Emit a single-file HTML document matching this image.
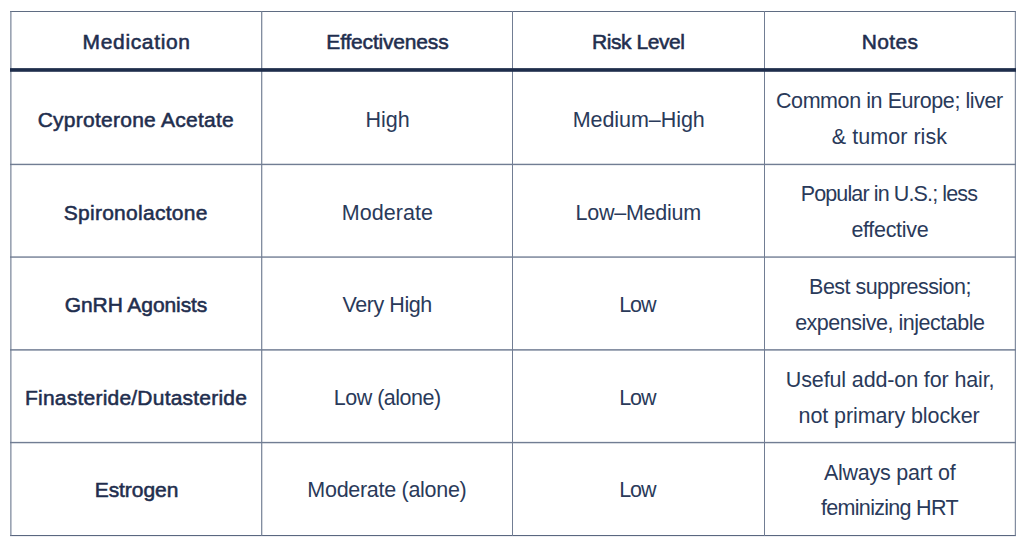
<!DOCTYPE html><html><head><meta charset="utf-8"><style>
html,body{margin:0;padding:0;background:#fff;}
body{width:1024px;height:550px;overflow:hidden;position:relative;font-family:"Liberation Sans",sans-serif;color:#2a3a5a;}
.l{position:absolute;background:#717d93;}
.t{position:absolute;white-space:nowrap;line-height:30px;height:30px;font-size:21.5px;}
.b{font-size:21px;color:#1f2e4e;-webkit-text-stroke:0.55px #1f2e4e;}
</style></head><body>
<div class="l" style="left:10px;top:11px;width:1006px;height:1px;background:#5f6c82"></div>
<div class="l" style="left:10px;top:163px;width:1006px;height:1px;opacity:0.28"></div>
<div class="l" style="left:10px;top:164px;width:1006px;height:1px"></div>
<div class="l" style="left:10px;top:165px;width:1006px;height:1px;opacity:0.14"></div>
<div class="l" style="left:10px;top:256px;width:1006px;height:1px;opacity:0.63"></div>
<div class="l" style="left:10px;top:257px;width:1006px;height:1px;opacity:0.77"></div>
<div class="l" style="left:10px;top:349px;width:1006px;height:1px;opacity:0.85"></div>
<div class="l" style="left:10px;top:350px;width:1006px;height:1px;opacity:0.63"></div>
<div class="l" style="left:10px;top:441px;width:1006px;height:1px;opacity:0.14"></div>
<div class="l" style="left:10px;top:442px;width:1006px;height:1px"></div>
<div class="l" style="left:10px;top:443px;width:1006px;height:1px;opacity:0.28"></div>
<div class="l" style="left:10px;top:535px;width:1006px;height:1px;background:#5a6780"></div>
<div class="l" style="left:10px;top:536px;width:1006px;height:1px;opacity:0.12"></div>
<div class="l" style="left:10px;top:11px;width:1px;height:525px;opacity:0.7"></div>
<div class="l" style="left:11px;top:11px;width:1px;height:525px;opacity:0.45"></div>
<div class="l" style="left:261px;top:11px;width:1px;height:525px;opacity:0.88"></div>
<div class="l" style="left:262px;top:11px;width:1px;height:525px;opacity:0.3"></div>
<div class="l" style="left:512px;top:11px;width:1px;height:525px"></div>
<div class="l" style="left:764px;top:11px;width:1px;height:525px"></div>
<div class="l" style="left:1014px;top:11px;width:1px;height:525px;opacity:0.2"></div>
<div class="l" style="left:1015px;top:11px;width:1px;height:525px;opacity:0.88"></div>
<div class="l" style="left:10px;top:68px;width:1006px;height:1px;background:#1e2d4b;opacity:0.88"></div>
<div class="l" style="left:10px;top:69px;width:1006px;height:2px;background:#1e2d4b"></div>
<div class="l" style="left:10px;top:71px;width:1006px;height:1px;background:#1e2d4b;opacity:0.8"></div>
<div class="t b" style="top:27.32px;left:136.60px;transform:translateX(-50%);letter-spacing:0.644px">Medication</div>
<div class="t b" style="top:27.32px;left:387.40px;transform:translateX(-50%);letter-spacing:-0.183px">Effectiveness</div>
<div class="t b" style="top:27.32px;left:638.30px;transform:translateX(-50%);letter-spacing:-0.422px">Risk Level</div>
<div class="t b" style="top:27.32px;left:890.00px;transform:translateX(-50%);letter-spacing:0.350px">Notes</div>
<div class="t b" style="top:105.32px;left:135.80px;transform:translateX(-50%);letter-spacing:0.256px">Cyproterone Acetate</div>
<div class="t" style="top:105.15px;left:387.50px;transform:translateX(-50%)">High</div>
<div class="t" style="top:105.15px;left:638.70px;transform:translateX(-50%);letter-spacing:-0.060px">Medium–High</div>
<div class="t" style="top:86.05px;left:889.40px;transform:translateX(-50%);letter-spacing:-0.427px">Common in Europe; liver</div>
<div class="t" style="top:122.25px;left:889.40px;transform:translateX(-50%);letter-spacing:0.055px">&amp; tumor risk</div>
<div class="t b" style="top:197.72px;left:135.70px;transform:translateX(-50%);letter-spacing:0.277px">Spironolactone</div>
<div class="t" style="top:197.55px;left:387.50px;transform:translateX(-50%);letter-spacing:0.057px">Moderate</div>
<div class="t" style="top:197.55px;left:638.20px;transform:translateX(-50%);letter-spacing:-0.267px">Low–Medium</div>
<div class="t" style="top:179.35px;left:888.90px;transform:translateX(-50%);letter-spacing:-0.880px">Popular in U.S.; less</div>
<div class="t" style="top:215.05px;left:889.90px;transform:translateX(-50%);letter-spacing:-0.300px">effective</div>
<div class="t b" style="top:290.32px;left:136.00px;transform:translateX(-50%);letter-spacing:-0.083px">GnRH Agonists</div>
<div class="t" style="top:290.15px;left:387.20px;transform:translateX(-50%);letter-spacing:-0.425px">Very High</div>
<div class="t" style="top:290.15px;left:637.40px;transform:translateX(-50%);letter-spacing:-1.000px">Low</div>
<div class="t" style="top:271.75px;left:890.00px;transform:translateX(-50%);letter-spacing:-0.537px">Best suppression;</div>
<div class="t" style="top:308.45px;left:889.80px;transform:translateX(-50%);letter-spacing:-0.490px">expensive, injectable</div>
<div class="t b" style="top:382.92px;left:136.10px;transform:translateX(-50%);letter-spacing:0.218px">Finasteride/Dutasteride</div>
<div class="t" style="top:382.75px;left:387.20px;transform:translateX(-50%);letter-spacing:-0.500px">Low (alone)</div>
<div class="t" style="top:382.75px;left:637.40px;transform:translateX(-50%);letter-spacing:-1.000px">Low</div>
<div class="t" style="top:364.85px;left:890.10px;transform:translateX(-50%);letter-spacing:-0.127px">Useful add-on for hair,</div>
<div class="t" style="top:401.05px;left:889.10px;transform:translateX(-50%);letter-spacing:-0.089px">not primary blocker</div>
<div class="t b" style="top:474.52px;left:136.50px;transform:translateX(-50%);letter-spacing:-0.057px">Estrogen</div>
<div class="t" style="top:475.35px;left:386.90px;transform:translateX(-50%);letter-spacing:-0.293px">Moderate (alone)</div>
<div class="t" style="top:475.35px;left:637.40px;transform:translateX(-50%);letter-spacing:-1.000px">Low</div>
<div class="t" style="top:457.75px;left:889.70px;transform:translateX(-50%);letter-spacing:-0.246px">Always part of</div>
<div class="t" style="top:492.95px;left:889.45px;transform:translateX(-50%);letter-spacing:-0.700px">feminizing HRT</div>
</body></html>
